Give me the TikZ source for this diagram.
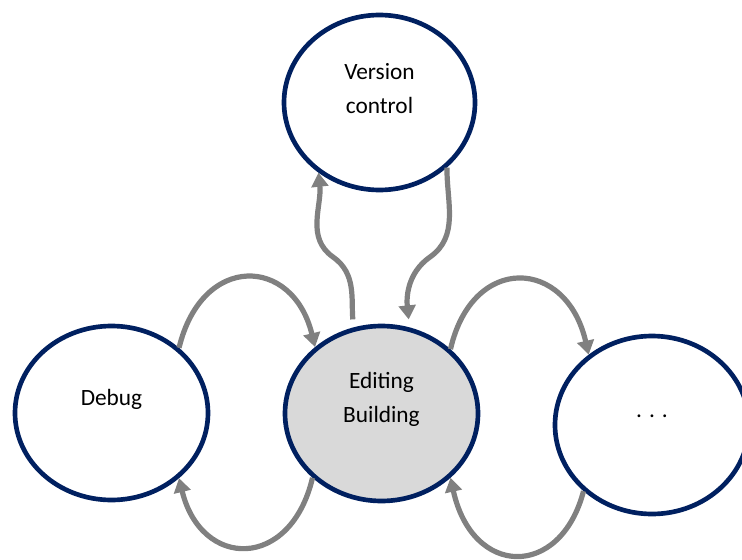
\documentclass[tikz,border=0pt]{standalone}
\usepackage{fontspec}
\setmainfont{Carlito}
\usetikzlibrary{arrows.meta,shapes.geometric}
\definecolor{navy}{HTML}{002060}
\definecolor{flowgray}{HTML}{808080}
\definecolor{busy}{HTML}{D9D9D9}

\begin{document}
\begin{tikzpicture}[x=0.75pt,y=-0.75pt,
  state/.style={ellipse,draw=navy,line width=3.5pt,fill=white,inner sep=0pt},
  txt/.style={align=center,font=\fontsize{17.5}{25.5}\selectfont,yshift=10.5pt},
  flow/.style={draw=flowgray,line width=3.9pt,-{Triangle[width=12.5pt,length=10.5pt]}}]
\useasboundingbox (0,0) rectangle (742,560);
% ---------- states ----------
\node[state,minimum width=143.25pt,minimum height=131.25pt,
      label={[txt]center:Version\\control}] (vc) at (379.5,102.5) {};
\node[state,minimum width=144.75pt,minimum height=130.5pt,
      label={[txt]center:Debug}] (debug) at (111.5,413) {};
\node[state,fill=busy,minimum width=144.75pt,minimum height=131.25pt,
      label={[txt]center:Editing\\Building}] (edit) at (381.5,413.5) {};
\node[state,minimum width=145.5pt,minimum height=133.5pt,
      label={[txt,yshift=-3.75pt]center:. . .}] (more) at (652,425) {};
% Knicke der S-Bögen
\coordinate (bendL) at (333,257);
\coordinate (bendR) at (430,257);
% ---------- Übergänge ----------
\draw[flow] (debug.44) .. controls +(23,-95) and +(-22,-91) .. (edit.135);
\draw[flow] (edit.223) .. controls +(-22,93) and +(22,91) .. (debug.316);
\draw[flow] (edit.43) .. controls +(22,-96) and +(-22,-97) .. (more.132);
\draw[flow] (more.224) .. controls +(-23,88) and +(22,100) .. (edit.317);
% zur Versionsverwaltung und zurück
\draw[flow,shorten <=6pt] (edit.108) to[out=95,in=-35] (bendL) to[out=145,in=-84] (vc.229);
\draw[flow,shorten >=6pt] (vc.316) to[out=-90,in=35] (bendR) to[out=-145,in=96] (edit.72);
\end{tikzpicture}
\end{document}
